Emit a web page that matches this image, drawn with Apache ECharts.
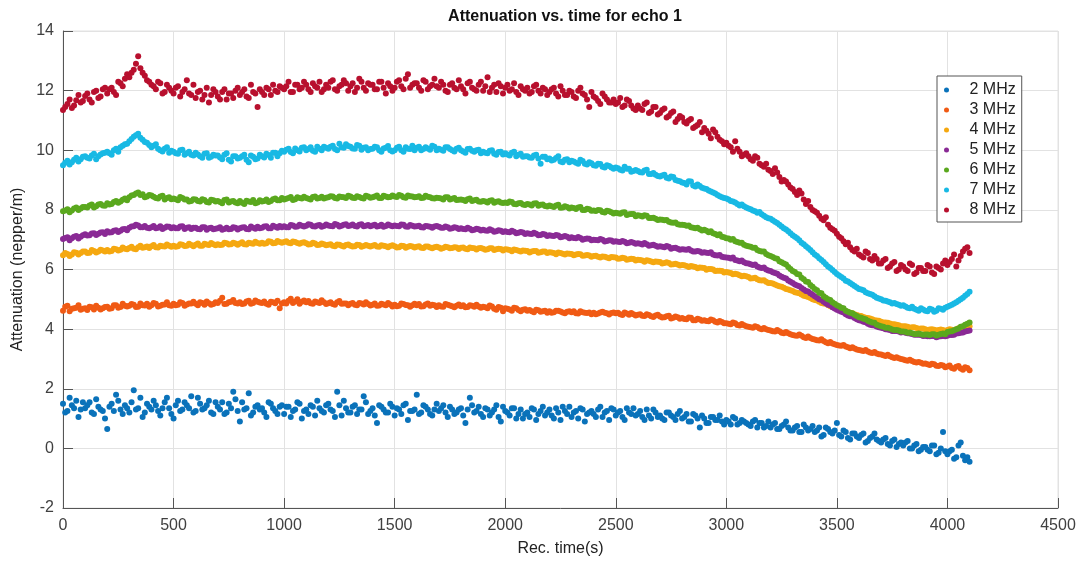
<!DOCTYPE html>
<html>
<head>
<meta charset="utf-8">
<script src="https://cdn.jsdelivr.net/npm/echarts@6/dist/echarts.min.js"></script>
<style>
html,body{margin:0;padding:0;background:#fff;}
#chart{width:1082px;height:562px;}
</style>
</head>
<body>
<div id="chart"></div>
<script>
const chartTitle = 'Attenuation vs. time for echo 1';
const xName = 'Rec. time(s)';
const yName = 'Attenuation (nepper/m)';
const seriesNames = ['2 MHz','3 MHz','4 MHz','5 MHz','6 MHz','7 MHz','8 MHz'];
const seriesColors = ['#0a72ba','#f05a14','#f5a810','#8a2a95','#5aa81e','#18b9e4','#b8102e'];

// sample times (s), set A
const times = [
0,20,40,60,80,100,120,140,160,180,200,220,240,260,280,300,320,340,360,380,
400,420,440,460,480,500,520,540,560,580,600,620,640,660,680,700,720,740,760,780,
800,820,840,860,880,900,920,940,960,980,1000,1020,1040,1060,1080,1100,1120,1140,1160,1180,
1200,1220,1240,1260,1280,1300,1320,1340,1360,1380,1400,1420,1440,1460,1480,1500,1520,1540,1560,1580,
1600,1620,1640,1660,1680,1700,1720,1740,1760,1780,1800,1820,1840,1860,1880,1900,1920,1940,1960,1980,
2000,2020,2040,2060,2080,2100,2120,2140,2160,2180,2200,2220,2240,2260,2280,2300,2320,2340,2360,2380,
2400,2420,2440,2460,2480,2500,2520,2540,2560,2580,2600,2620,2640,2660,2680,2700,2720,2740,2760,2780,
2800,2820,2840,2860,2880,2900,2920,2940,2960,2980,3000,3020,3040,3060,3080,3100,3120,3140,3160,3180,
3200,3220,3240,3260,3280,3300,3320,3340,3360,3380,3400,3420,3440,3460,3480,3500,3520,3540,3560,3580,
3600,3620,3640,3660,3680,3700,3720,3740,3760,3780,3800,3820,3840,3860,3880,3900,3920,3940,3960,3980,
4000,4020,4040,4060,4080,4100];

// sample times (s), set B
const timesB = [
10,30,50,70,90,110,130,150,170,190,210,230,250,270,290,310,330,350,370,390,
410,430,450,470,490,510,530,550,570,590,610,630,650,670,690,710,730,750,770,790,
810,830,850,870,890,910,930,950,970,990,1010,1030,1050,1070,1090,1110,1130,1150,1170,1190,
1210,1230,1250,1270,1290,1310,1330,1350,1370,1390,1410,1430,1450,1470,1490,1510,1530,1550,1570,1590,
1610,1630,1650,1670,1690,1710,1730,1750,1770,1790,1810,1830,1850,1870,1890,1910,1930,1950,1970,1990,
2010,2030,2050,2070,2090,2110,2130,2150,2170,2190,2210,2230,2250,2270,2290,2310,2330,2350,2370,2390,
2410,2430,2450,2470,2490,2510,2530,2550,2570,2590,2610,2630,2650,2670,2690,2710,2730,2750,2770,2790,
2810,2830,2850,2870,2890,2910,2930,2950,2970,2990,3010,3030,3050,3070,3090,3110,3130,3150,3170,3190,
3210,3230,3250,3270,3290,3310,3330,3350,3370,3390,3410,3430,3450,3470,3490,3510,3530,3550,3570,3590,
3610,3630,3650,3670,3690,3710,3730,3750,3770,3790,3810,3830,3850,3870,3890,3910,3930,3950,3970,3990,
4010,4030,4050,4070,4090];

const mhz2 = [
1.5,1.25,1.45,1.6,1.3, 1.35,1.55,1.15,1.4,1.25, 0.65,1.5,1.8,1.3,1.45, 1.2,1.95,1.35,1.05,1.5,
1.3,1.45,1.1,1.55,1.35, 1.0,1.6,1.3,1.45,1.75, 1.25,1.5,1.35,1.6,1.15, 1.4,1.55,1.2,1.35,1.65,
0.9,1.3,1.85,1.2,1.45, 1.35,1.05,1.5,1.25,1.4, 1.15,1.4,1.25,1.55,1.0, 1.3,1.45,1.1,1.35,1.2,
1.5,1.25,1.9,1.1,1.35, 1.2,1.45,1.3,1.75,1.15, 1.35,0.85,1.4,1.2,1.5, 1.1,1.3,1.45,0.95,1.25,
1.8,1.2,1.4,1.15,1.3, 1.25,1.45,1.05,1.3,1.2, 1.35,0.85,1.7,1.2,1.4, 1.05,1.3,1.2,1.45,0.9,
1.25,1.1,1.35,1.15,1.0, 1.2,1.35,0.95,1.25,1.1, 1.3,1.0,1.2,1.4,1.15, 1.05,1.25,1.35,0.9,1.2,
1.15,1.3,1.05,1.25,1.35, 1.1,1.25,0.95,1.2,1.35, 1.15,1.05,1.3,1.0,1.2, 1.1,0.95,1.2,1.05,1.15,
1.0,1.15,0.9,1.1,0.7, 1.0,0.85,1.05,0.95,0.9, 0.95,0.8,1.0,0.85,0.9, 0.8,0.9,0.7,0.85,0.75,
0.7,0.85,0.65,0.8,0.7, 0.6,0.75,0.55,0.7,0.65, 0.55,0.7,0.45,0.65,0.5, 0.85,0.4,0.55,0.3,0.5,
0.35,0.5,0.25,0.4,0.3, 0.2,0.35,0.1,0.3,0.15, 0.1,0.25,0.0,0.15,-0.05, 0.05,-0.1,0.1,-0.15,0.55,
-0.2,-0.05,-0.3,0.2,-0.4, -0.45];
const mhz2b = [
1.2,1.7,1.35,1.05,1.55, 1.45,1.2,1.65,1.3,1.0, 1.4,1.25,1.6,1.15,1.35, 1.55,1.3,1.7,1.2,1.4,
1.6,1.25,1.35,1.7,1.15, 1.45,1.25,1.55,1.35,1.2, 1.7,1.3,1.45,1.2,1.55, 1.3,1.15,1.5,1.9,1.25,
1.55,1.35,1.1,1.4,1.3, 1.2,1.55,1.35,1.15,1.45, 1.4,1.05,1.3,1.5,1.25, 1.15,1.4,1.6,1.25,1.45,
1.3,1.05,1.45,1.6,1.2, 1.4,1.15,1.3,1.55,1.25, 1.1,1.45,1.3,1.2,1.4, 1.35,1.15,1.5,1.25,1.3,
1.15,1.45,1.3,1.1,1.5, 1.35,1.2,1.4,1.15,1.3, 1.1,1.3,1.45,1.25,1.15, 1.35,1.1,1.3,1.05,1.4,
1.2,1.35,1.0,1.3,1.15, 1.05,1.3,1.15,1.4,1.2, 1.1,1.35,0.95,1.25,1.4, 1.2,1.0,1.3,1.15,1.25,
1.05,1.4,1.2,0.95,1.3, 1.2,1.05,1.35,1.15,1.1, 1.25,0.95,1.1,1.3,1.05, 1.0,1.2,1.1,0.95,1.25,
1.05,0.9,1.15,1.0,1.1, 0.85,1.05,0.95,1.1,0.8, 0.9,1.05,0.8,0.95,0.85, 0.75,0.95,0.85,0.7,0.9,
0.8,0.65,0.75,0.9,0.6, 0.7,0.55,0.8,0.6,0.75, 0.6,0.4,0.7,0.55,0.6, 0.45,0.6,0.35,0.5,0.4,
0.45,0.2,0.35,0.5,0.25, 0.3,0.15,0.25,0.05,0.2, 0.2,0.0,0.1,-0.1,0.05, -0.05,0.1,-0.2,0.0,-0.1,
-0.1,-0.35,0.1,-0.25,-0.3];

const mhz3 = [
4.62,4.78,4.68,4.72,4.65, 4.7,4.75,4.66,4.72,4.7, 4.75,4.7,4.8,4.74,4.78, 4.78,4.82,4.75,4.8,4.85,
4.8,4.85,4.78,4.83,4.8, 4.85,4.82,4.88,4.83,4.86, 4.85,4.9,4.82,4.87,4.84, 4.88,5.05,4.85,4.92,4.88,
4.9,4.86,4.95,4.88,4.92, 4.88,4.85,4.92,4.87,4.7, 4.9,4.95,4.88,5.0,4.92, 4.9,4.87,4.93,4.88,4.9,
4.87,4.84,4.9,4.85,4.86, 4.85,4.82,4.88,4.83,4.84, 4.82,4.78,4.85,4.8,4.83, 4.82,4.78,4.84,4.8,4.8,
4.8,4.76,4.83,4.78,4.8, 4.8,4.75,4.82,4.77,4.78, 4.77,4.73,4.8,4.75,4.76, 4.75,4.7,4.76,4.65,4.72,
4.7,4.66,4.72,4.64,4.65, 4.62,4.6,4.65,4.58,4.62, 4.6,4.57,4.62,4.56,4.58, 4.57,4.53,4.6,4.55,4.56,
4.55,4.52,4.58,4.53,4.54, 4.53,4.5,4.56,4.48,4.5, 4.48,4.45,4.5,4.43,4.46, 4.42,4.4,4.45,4.38,4.4,
4.37,4.33,4.38,4.3,4.32, 4.3,4.26,4.3,4.22,4.24, 4.2,4.16,4.2,4.12,4.13, 4.08,4.05,4.07,4.0,4.0,
3.95,3.92,3.93,3.86,3.86, 3.8,3.78,3.78,3.7,3.7, 3.65,3.62,3.6,3.53,3.52, 3.47,3.44,3.42,3.36,3.35,
3.3,3.27,3.25,3.2,3.18, 3.15,3.1,3.09,3.03,3.02, 2.98,2.94,2.93,2.88,2.87, 2.85,2.8,2.82,2.76,2.78,
2.75,2.7,2.74,2.68,2.72, 2.62];
const mhz3b = [
4.75,4.6,4.7,4.8,4.68, 4.64,4.73,4.78,4.66,4.74, 4.68,4.8,4.72,4.85,4.76, 4.84,4.74,4.86,4.79,4.75,
4.88,4.76,4.82,4.9,4.78, 4.8,4.9,4.78,4.86,4.92, 4.8,4.88,4.93,4.82,4.9, 4.95,4.84,4.9,4.98,4.86,
4.84,4.93,4.85,4.96,4.89, 4.93,4.82,4.9,4.95,4.86, 4.86,5.02,4.93,4.85,4.96, 4.94,4.85,4.9,4.97,4.84,
4.9,4.82,4.94,4.86,4.8, 4.88,4.8,4.86,4.9,4.79, 4.86,4.79,4.83,4.88,4.76, 4.77,4.86,4.81,4.75,4.85,
4.84,4.77,4.86,4.82,4.74, 4.76,4.84,4.79,4.73,4.83, 4.8,4.74,4.78,4.82,4.72, 4.73,4.79,4.68,4.74,4.6,
4.68,4.62,4.7,4.6,4.67, 4.64,4.57,4.63,4.6,4.55, 4.55,4.62,4.59,4.53,4.6, 4.6,4.52,4.57,4.54,4.5,
4.5,4.56,4.55,4.49,4.56, 4.55,4.47,4.52,4.54,4.46, 4.5,4.44,4.47,4.41,4.48, 4.39,4.43,4.36,4.42,4.35,
4.34,4.39,4.3,4.35,4.28, 4.27,4.32,4.25,4.27,4.2, 4.18,4.22,4.14,4.17,4.1, 4.06,4.1,4.02,4.04,3.97,
3.93,3.97,3.88,3.9,3.83, 3.79,3.82,3.73,3.75,3.67, 3.63,3.66,3.56,3.57,3.49, 3.45,3.47,3.39,3.39,3.32,
3.28,3.3,3.22,3.23,3.16, 3.12,3.14,3.06,3.06,3.0, 2.96,2.97,2.9,2.9,2.84, 2.82,2.84,2.77,2.8,2.72,
2.78,2.67,2.76,2.64,2.7];

const mhz4 = [
6.48,6.52,6.5,6.56,6.55, 6.6,6.56,6.62,6.6,6.64, 6.65,6.62,6.68,6.66,6.7, 6.72,6.7,6.75,6.73,6.77,
6.78,6.75,6.8,6.77,6.8, 6.8,6.78,6.83,6.8,6.82, 6.83,6.8,6.86,6.82,6.85, 6.85,6.83,6.88,6.85,6.87,
6.87,6.85,6.9,6.86,6.89, 6.9,6.88,6.93,6.89,6.92, 6.92,6.9,6.94,6.89,6.9, 6.88,6.85,6.87,6.83,6.85,
6.83,6.8,6.84,6.8,6.82, 6.8,6.78,6.82,6.79,6.8, 6.8,6.77,6.81,6.78,6.79, 6.78,6.75,6.79,6.76,6.77,
6.76,6.73,6.77,6.74,6.75, 6.74,6.72,6.75,6.72,6.74, 6.73,6.7,6.74,6.71,6.71, 6.7,6.68,6.71,6.68,6.69,
6.68,6.65,6.67,6.63,6.64, 6.62,6.6,6.62,6.58,6.6, 6.58,6.55,6.57,6.53,6.54, 6.52,6.5,6.51,6.47,6.47,
6.45,6.43,6.44,6.4,6.42, 6.4,6.37,6.38,6.34,6.35, 6.33,6.3,6.31,6.27,6.27, 6.25,6.22,6.22,6.18,6.17,
6.15,6.12,6.12,6.08,6.07, 6.05,6.02,6.0,5.96,5.95, 5.92,5.88,5.86,5.81,5.79, 5.75,5.71,5.67,5.63,5.59,
5.55,5.5,5.44,5.39,5.33, 5.28,5.22,5.16,5.1,5.04, 4.98,4.92,4.86,4.81,4.75, 4.7,4.65,4.6,4.55,4.5,
4.45,4.41,4.37,4.33,4.29, 4.25,4.22,4.19,4.16,4.13, 4.1,4.08,4.06,4.04,4.02, 4.0,3.99,3.98,3.97,3.97,
3.97,3.98,4.0,4.03,4.06, 4.1];
const mhz4b = [
6.55,6.45,6.58,6.5,6.6, 6.55,6.65,6.57,6.66,6.6, 6.6,6.7,6.64,6.74,6.68, 6.76,6.68,6.8,6.75,6.72,
6.82,6.74,6.78,6.84,6.76, 6.76,6.85,6.79,6.86,6.78, 6.87,6.8,6.84,6.89,6.81, 6.82,6.9,6.84,6.9,6.83,
6.91,6.84,6.88,6.93,6.86, 6.86,6.95,6.88,6.96,6.9, 6.95,6.88,6.92,6.86,6.91, 6.84,6.9,6.82,6.87,6.81,
6.85,6.78,6.83,6.77,6.84, 6.77,6.83,6.76,6.82,6.77, 6.82,6.76,6.8,6.75,6.81, 6.74,6.8,6.73,6.79,6.74,
6.78,6.72,6.77,6.71,6.76, 6.7,6.76,6.71,6.75,6.69, 6.74,6.68,6.72,6.67,6.72, 6.66,6.71,6.65,6.7,6.64,
6.67,6.61,6.65,6.6,6.63, 6.57,6.62,6.56,6.6,6.55, 6.57,6.51,6.55,6.5,6.53, 6.48,6.52,6.46,6.49,6.43,
6.46,6.4,6.43,6.38,6.41, 6.36,6.39,6.33,6.36,6.3, 6.32,6.26,6.29,6.24,6.26, 6.2,6.24,6.17,6.19,6.13,
6.14,6.08,6.1,6.04,6.06, 5.99,6.02,5.95,5.96,5.9, 5.9,5.84,5.84,5.77,5.77, 5.7,5.72,5.64,5.64,5.55,
5.53,5.46,5.42,5.35,5.3, 5.24,5.2,5.12,5.08,5.0, 4.96,4.88,4.85,4.77,4.74, 4.66,4.63,4.56,4.53,4.47,
4.44,4.38,4.36,4.3,4.28, 4.22,4.21,4.16,4.15,4.1, 4.1,4.05,4.06,4.01,4.02, 3.97,4.0,3.95,3.99,3.94,
4.0,3.96,4.03,4.05,4.09];

const mhz5 = [
7.02,7.08,7.05,7.12,7.1, 7.18,7.15,7.22,7.2,7.25, 7.28,7.25,7.32,7.3,7.36, 7.4,7.45,7.48,7.42,7.4,
7.42,7.38,7.45,7.4,7.43, 7.42,7.38,7.45,7.4,7.36, 7.4,7.35,7.42,7.38,7.35, 7.38,7.33,7.4,7.36,7.4,
7.38,7.42,7.35,7.4,7.43, 7.4,7.45,7.38,7.43,7.46, 7.45,7.42,7.48,7.44,7.47, 7.47,7.5,7.44,7.49,7.46,
7.48,7.45,7.5,7.47,7.52, 7.48,7.46,7.5,7.45,7.49, 7.48,7.44,7.5,7.46,7.48, 7.48,7.45,7.5,7.43,7.47,
7.45,7.42,7.46,7.43,7.44, 7.43,7.4,7.42,7.38,7.4, 7.38,7.35,7.37,7.33,7.35, 7.33,7.3,7.32,7.28,7.3,
7.28,7.25,7.27,7.23,7.24, 7.22,7.19,7.2,7.16,7.17, 7.15,7.12,7.14,7.1,7.1, 7.08,7.05,7.06,7.02,7.03,
7.0,6.98,7.0,6.96,6.97, 6.95,6.92,6.93,6.9,6.9, 6.88,6.84,6.85,6.81,6.8, 6.78,6.75,6.76,6.72,6.7,
6.68,6.66,6.64,6.6,6.6, 6.58,6.55,6.5,6.47,6.43, 6.4,6.37,6.32,6.28,6.24, 6.2,6.15,6.1,6.05,6.0,
5.95,5.88,5.8,5.72,5.63, 5.55,5.46,5.38,5.28,5.2, 5.1,5.0,4.92,4.82,4.73, 4.65,4.58,4.5,4.43,4.37,
4.3,4.25,4.18,4.13,4.09, 4.05,4.0,3.97,3.94,3.92, 3.9,3.86,3.84,3.81,3.8, 3.78,3.76,3.77,3.75,3.77,
3.78,3.8,3.85,3.88,3.92, 3.95];
const mhz5b = [
7.06,6.98,7.1,7.04,7.15, 7.14,7.21,7.16,7.24,7.19, 7.24,7.3,7.26,7.35,7.32, 7.44,7.5,7.42,7.46,7.38,
7.46,7.4,7.36,7.44,7.38, 7.38,7.44,7.36,7.42,7.4, 7.36,7.42,7.33,7.4,7.37, 7.42,7.36,7.35,7.42,7.34,
7.41,7.36,7.44,7.37,7.38, 7.44,7.38,7.47,7.4,7.42, 7.42,7.49,7.43,7.5,7.44, 7.52,7.45,7.48,7.43,7.51,
7.46,7.53,7.44,7.5,7.46, 7.51,7.44,7.52,7.47,7.45, 7.5,7.46,7.43,7.51,7.45, 7.46,7.51,7.44,7.49,7.44,
7.47,7.41,7.45,7.4,7.46, 7.4,7.44,7.37,7.42,7.36, 7.36,7.4,7.32,7.37,7.31, 7.31,7.35,7.27,7.32,7.26,
7.26,7.3,7.22,7.26,7.19, 7.2,7.23,7.15,7.19,7.12, 7.13,7.16,7.08,7.12,7.05, 7.06,7.09,7.0,7.04,6.98,
6.99,7.02,6.94,6.98,6.93, 6.93,6.96,6.88,6.92,6.86, 6.86,6.89,6.8,6.83,6.76, 6.76,6.79,6.7,6.73,6.66,
6.67,6.69,6.6,6.62,6.56, 6.56,6.58,6.48,6.49,6.41, 6.39,6.4,6.3,6.3,6.21, 6.18,6.17,6.07,6.07,5.97,
5.91,5.86,5.76,5.7,5.59, 5.5,5.44,5.33,5.26,5.15, 5.05,4.98,4.87,4.8,4.69, 4.62,4.56,4.46,4.42,4.33,
4.28,4.23,4.15,4.12,4.06, 4.03,3.99,3.94,3.94,3.89, 3.88,3.85,3.81,3.81,3.77, 3.76,3.77,3.73,3.76,3.76,
3.8,3.81,3.86,3.89,3.94];

const mhz6 = [
7.95,8.02,7.98,8.08,8.05, 8.1,8.15,8.08,8.18,8.15, 8.22,8.2,8.3,8.28,8.38, 8.42,8.5,8.58,8.52,8.45,
8.48,8.4,8.45,8.35,8.42, 8.38,8.32,8.4,8.35,8.3, 8.35,8.28,8.33,8.25,8.32, 8.3,8.22,8.35,8.28,8.25,
8.3,8.2,8.28,8.33,8.25, 8.28,8.35,8.3,8.38,8.32, 8.35,8.4,8.33,8.42,8.38, 8.4,8.35,8.45,8.4,8.38,
8.42,8.45,8.38,8.43,8.4, 8.45,8.4,8.43,8.38,8.45, 8.42,8.48,8.4,8.45,8.43, 8.45,8.5,8.42,8.48,8.45,
8.43,8.4,8.47,8.42,8.38, 8.4,8.35,8.42,8.37,8.33, 8.35,8.3,8.38,8.32,8.28, 8.3,8.25,8.32,8.27,8.25,
8.25,8.28,8.2,8.22,8.18, 8.2,8.15,8.22,8.17,8.13, 8.15,8.1,8.17,8.08,8.1, 8.08,8.03,8.1,8.0,8.02,
7.98,8.0,7.93,7.97,7.92, 7.9,7.87,7.92,7.85,7.86, 7.82,7.78,7.8,7.73,7.7, 7.68,7.65,7.6,7.57,7.52,
7.5,7.47,7.42,7.38,7.35, 7.33,7.25,7.22,7.15,7.1, 7.05,7.0,6.95,6.9,6.83, 6.78,6.73,6.65,6.6,6.52,
6.45,6.38,6.28,6.2,6.08, 5.95,5.85,5.72,5.6,5.48, 5.35,5.22,5.1,5.0,4.9, 4.8,4.72,4.62,4.55,4.48,
4.4,4.35,4.28,4.22,4.15, 4.1,4.05,4.02,3.97,3.95, 3.92,3.88,3.86,3.84,3.83, 3.82,3.8,3.83,3.81,3.85,
3.9,3.93,4.0,4.08,4.15, 4.22];
const mhz6b = [
7.98,7.92,8.05,8.0,8.1, 8.08,8.18,8.12,8.2,8.14, 8.18,8.26,8.24,8.34,8.32, 8.48,8.55,8.5,8.42,8.5,
8.44,8.38,8.47,8.4,8.36, 8.36,8.43,8.35,8.28,8.36, 8.3,8.36,8.26,8.34,8.28, 8.26,8.33,8.25,8.3,8.22,
8.24,8.31,8.26,8.22,8.32, 8.3,8.26,8.36,8.32,8.4, 8.37,8.43,8.36,8.4,8.44, 8.37,8.43,8.38,8.44,8.41,
8.46,8.4,8.45,8.42,8.47, 8.41,8.46,8.4,8.47,8.41, 8.45,8.4,8.47,8.42,8.48, 8.43,8.47,8.41,8.46,8.42,
8.46,8.41,8.44,8.39,8.41, 8.38,8.42,8.35,8.4,8.34, 8.33,8.36,8.3,8.34,8.27, 8.28,8.31,8.24,8.29,8.23,
8.23,8.26,8.19,8.23,8.16, 8.18,8.21,8.14,8.18,8.11, 8.12,8.15,8.07,8.12,8.05, 8.06,8.08,8.0,8.04,7.97,
7.96,7.99,7.91,7.95,7.88, 7.89,7.91,7.83,7.86,7.79, 7.8,7.82,7.73,7.74,7.66, 7.67,7.66,7.58,7.58,7.5,
7.49,7.48,7.4,7.4,7.31, 7.3,7.28,7.19,7.18,7.08, 7.04,7.02,6.92,6.9,6.8, 6.76,6.73,6.62,6.6,6.48,
6.42,6.36,6.24,6.17,6.02, 5.92,5.83,5.67,5.58,5.42, 5.3,5.2,5.05,4.98,4.85, 4.77,4.7,4.58,4.53,4.44,
4.38,4.33,4.25,4.21,4.12, 4.08,4.05,3.99,3.97,3.92, 3.91,3.89,3.84,3.85,3.81, 3.82,3.83,3.79,3.84,3.83,
3.92,3.96,4.02,4.1,4.18];

const mhz7 = [
9.5,9.65,9.6,9.75,9.7, 9.8,9.72,9.88,9.8,9.9, 9.95,9.85,10.05,10.1,10.2, 10.3,10.45,10.55,10.35,10.25,
10.1,10.2,10.0,10.05,9.92, 9.95,9.88,10.02,9.9,9.85, 9.92,9.8,9.88,9.75,9.85, 9.82,9.7,9.9,9.62,9.8,
9.75,9.85,9.6,9.78,9.72, 9.8,9.88,9.75,9.92,9.9, 9.95,10.05,9.9,10.0,10.08, 10.0,10.1,9.95,10.05,10.12,
10.05,10.15,10.0,10.1,10.2, 10.12,10.05,10.15,10.08,10.0, 10.05,10.1,9.95,10.08,10.0, 10.0,10.12,9.95,10.05,10.15,
10.08,10.0,10.1,10.02,10.12, 10.05,9.98,10.1,10.0,10.05, 10.0,9.92,10.05,9.95,10.02, 9.95,9.9,10.0,9.85,9.95,
9.9,9.82,9.95,9.85,9.78, 9.8,9.75,9.85,9.55,9.78, 9.72,9.68,9.8,9.6,9.7, 9.65,9.58,9.68,9.55,9.6,
9.5,9.55,9.45,9.5,9.42, 9.42,9.35,9.45,9.38,9.3, 9.3,9.25,9.35,9.2,9.18, 9.12,9.18,9.05,9.1,8.98,
8.92,8.85,8.95,8.78,8.8, 8.72,8.65,8.58,8.5,8.42, 8.38,8.3,8.25,8.15,8.12, 8.05,7.98,7.9,7.85,7.75,
7.7,7.6,7.5,7.38,7.28, 7.15,7.05,6.9,6.78,6.65, 6.5,6.38,6.25,6.1,5.98, 5.85,5.75,5.62,5.55,5.45,
5.35,5.3,5.2,5.15,5.05, 5.0,4.95,4.9,4.88,4.82, 4.8,4.72,4.75,4.65,4.7, 4.62,4.68,4.58,4.7,4.65,
4.75,4.82,4.9,5.0,5.12, 5.25];
const mhz7b = [
9.58,9.52,9.68,9.62,9.78, 9.75,9.82,9.7,9.86,9.92, 9.9,10.0,9.95,10.15,10.22, 10.38,10.5,10.42,10.28,10.18,
10.15,10.05,9.96,10.1,9.98, 9.9,10.0,9.85,9.95,9.82, 9.86,9.75,9.9,9.78,9.82, 9.76,9.85,9.68,9.8,9.72,
9.8,9.68,9.82,9.7,9.85, 9.76,9.84,9.92,9.8,9.98, 10.02,9.94,10.06,9.96,10.1, 10.04,9.98,10.12,10.0,10.08,
10.12,10.04,10.22,10.08,10.14, 10.06,10.18,10.02,10.1,10.04, 10.12,10.0,10.06,10.14,9.96, 10.08,10.0,10.1,10.04,10.0,
10.12,10.04,10.06,10.15,10.0, 10.02,10.1,10.04,9.96,10.08, 9.96,10.04,9.98,10.0,9.9, 9.92,9.98,9.88,9.94,9.86,
9.86,9.92,9.8,9.88,9.8, 9.76,9.82,9.72,9.78,9.7, 9.66,9.74,9.62,9.68,9.6, 9.62,9.55,9.64,9.52,9.56,
9.48,9.54,9.42,9.47,9.38, 9.4,9.32,9.38,9.28,9.34, 9.26,9.32,9.2,9.24,9.14, 9.15,9.08,9.12,9.0,8.96,
8.9,8.96,8.82,8.85,8.74, 8.7,8.62,8.55,8.46,8.4, 8.35,8.28,8.2,8.18,8.08, 8.02,7.95,7.93,7.8,7.72,
7.65,7.56,7.44,7.34,7.22, 7.1,6.98,6.85,6.72,6.58, 6.45,6.32,6.18,6.05,5.92, 5.8,5.7,5.6,5.5,5.4,
5.33,5.24,5.18,5.1,5.03, 4.96,4.93,4.86,4.84,4.78, 4.76,4.7,4.68,4.62,4.66, 4.6,4.66,4.62,4.68,4.72,
4.78,4.86,4.95,5.05,5.18];

const mhz8 = [
11.35,11.55,11.42,11.68,11.6, 11.82,11.7,11.95,11.75,12.05, 11.9,12.1,11.85,12.25,12.4, 12.45,12.7,13.15,12.6,12.35,
12.2,12.05,12.25,11.95,12.1, 11.9,12.15,11.95,12.35,11.85, 11.75,12.0,11.85,11.6,12.05, 11.8,11.95,11.7,11.9,12.0,
11.85,12.05,11.75,11.95,11.45, 11.95,12.1,11.85,12.0,12.15, 12.05,12.3,11.95,12.2,12.1, 12.2,11.95,12.15,12.3,12.05,
12.1,12.35,12.0,12.2,12.25, 12.15,11.95,12.4,12.1,12.25, 12.2,12.05,12.3,11.9,12.15, 12.1,12.35,12.05,12.55,12.2,
12.25,12.0,12.3,12.15,12.4, 12.1,12.2,11.95,12.25,12.05, 12.15,11.9,12.3,12.05,12.2, 12.0,12.45,12.1,11.95,12.15,
12.1,12.0,12.25,11.85,12.05, 12.1,11.95,12.2,11.9,12.05, 11.95,12.1,11.8,12.0,11.85, 11.95,11.75,12.1,11.85,11.45,
11.8,11.65,11.9,11.7,11.6, 11.55,11.75,11.5,11.65,11.4, 11.5,11.35,11.6,11.3,11.45, 11.25,11.4,11.15,11.3,11.05,
11.1,10.9,11.05,10.8,10.95, 10.75,10.55,10.7,10.45,10.3, 10.25,10.1,10.3,9.95,9.85, 9.8,9.65,9.75,9.5,9.55,
9.3,9.4,9.1,9.0,8.85, 8.7,8.5,8.55,8.2,8.1, 7.95,7.8,7.65,7.5,7.35, 7.2,7.05,6.85,6.75,6.6,
6.5,6.4,6.55,6.3,6.35, 6.2,6.35,6.1,6.25,6.0, 6.1,5.95,6.15,5.9,6.05, 5.95,6.1,5.85,6.05,6.2,
6.15,6.35,6.1,6.45,6.7, 6.55];
const mhz8b = [
11.45,11.7,11.5,11.85,11.65, 11.9,11.6,12.0,11.8,12.1, 12.05,11.95,12.3,12.15,12.55, 12.6,12.9,12.75,12.5,12.3,
12.15,12.3,11.9,12.2,12.0, 12.1,11.8,12.05,11.9,12.2, 11.95,11.7,12.1,11.85,11.95, 11.7,12.05,11.9,11.75,12.1,
11.95,11.8,12.2,11.9,12.05, 11.85,12.05,12.2,11.95,12.1, 12.15,11.95,12.2,12.05,12.3, 12.05,12.25,12.1,11.95,12.2,
12.3,12.05,12.15,12.35,12.0, 12.25,12.1,12.3,12.0,12.2, 12.05,12.3,12.1,12.25,12.0, 12.3,12.15,12.4,12.1,12.25,
12.1,12.35,12.05,12.2,12.15, 12.3,12.0,12.2,12.1,12.35, 12.05,12.25,12.1,12.0,12.3, 12.15,11.95,12.2,12.25,11.9,
12.2,12.05,11.95,12.15,12.0, 11.9,12.15,12.0,12.1,11.85, 12.05,11.9,12.15,11.85,12.0, 11.8,12.0,11.9,11.7,11.95,
11.75,11.55,11.8,11.6,11.7, 11.6,11.45,11.7,11.5,11.35, 11.4,11.55,11.25,11.45,11.2, 11.35,11.1,11.25,10.95,11.15,
10.95,11.0,10.75,10.85,10.6, 10.65,10.4,10.6,10.35,10.2, 10.15,9.95,10.05,9.8,9.9, 9.7,9.8,9.55,9.45,9.35,
9.2,9.25,8.95,8.95,8.75, 8.6,8.65,8.35,8.3,8.0, 7.9,7.7,7.75,7.4,7.3, 7.1,6.95,6.9,6.65,6.7,
6.45,6.6,6.35,6.45,6.2, 6.3,6.05,6.2,5.95,6.15, 6.0,6.2,5.85,6.05,5.95, 6.15,5.9,6.1,6.0,6.3,
6.25,6.5,6.3,6.6,6.75];

const valuesA = [mhz2, mhz3, mhz4, mhz5, mhz6, mhz7, mhz8];
const valuesB = [mhz2b, mhz3b, mhz4b, mhz5b, mhz6b, mhz7b, mhz8b];
const xTicks = {min: 0, max: 4500, interval: 500};
const yTicks = {min: -2, max: 14, interval: 2};

const FONT = "'Liberation Sans', Arial, Helvetica, sans-serif";
const chart = echarts.init(document.getElementById('chart'), null, {renderer: 'canvas'});

const series = seriesNames.map((name, k) => {
  const pts = [];
  times.forEach((t, i) => pts.push([t, valuesA[k][i]]));
  timesB.forEach((t, i) => pts.push([t, valuesB[k][i]]));
  pts.sort((a, b) => a[0] - b[0]);
  return {
    name: name,
    type: 'scatter',
    symbol: 'circle',
    symbolSize: 6,
    itemStyle: {color: seriesColors[k], opacity: 1},
    emphasis: {disabled: true},
    data: pts
  };
});

chart.setOption({
  animation: false,
  backgroundColor: '#ffffff',
  textStyle: {fontFamily: FONT},
  title: {
    text: chartTitle,
    left: 560,
    top: 4,
    textAlign: 'center',
    textStyle: {fontFamily: FONT, fontSize: 16, fontWeight: 'bold', color: '#111'}
  },
  grid: {left: 63, right: 24, top: 31, bottom: 54, show: true, borderColor: '#e2e2e2', borderWidth: 1},
  legend: {
    orient: 'vertical',
    left: 937,
    top: 76,
    icon: 'circle',
    itemWidth: 36,
    itemHeight: 5,
    itemGap: 0,
    padding: [4, 6, 2, 7],
    backgroundColor: '#ffffff',
    borderColor: '#555',
    borderWidth: 1,
    borderRadius: 0,
    textStyle: {fontFamily: FONT, fontSize: 16, color: '#222', lineHeight: 20},
    data: seriesNames
  },
  xAxis: {
    type: 'value',
    min: xTicks.min, max: xTicks.max, interval: xTicks.interval,
    name: xName, nameLocation: 'middle', nameGap: 33,
    nameTextStyle: {fontFamily: FONT, fontSize: 16, color: '#222'},
    axisLine: {show: true, onZero: false, lineStyle: {color: '#555', width: 1}},
    axisTick: {show: true, inside: true, length: 10, lineStyle: {color: '#555'}},
    axisLabel: {fontFamily: FONT, fontSize: 16, color: '#404040', margin: 10, formatter: v => String(v)},
    splitLine: {show: true, lineStyle: {color: '#e2e2e2', width: 1}}
  },
  yAxis: {
    type: 'value',
    min: yTicks.min, max: yTicks.max, interval: yTicks.interval,
    name: yName, nameLocation: 'middle', nameGap: 31, nameRotate: 90,
    nameTextStyle: {fontFamily: FONT, fontSize: 16, color: '#222'},
    axisLine: {show: true, onZero: false, lineStyle: {color: '#555', width: 1}},
    axisTick: {show: true, inside: true, length: 10, lineStyle: {color: '#555'}},
    axisLabel: {fontFamily: FONT, fontSize: 16, color: '#404040', margin: 9, formatter: v => String(v)},
    splitLine: {show: true, lineStyle: {color: '#e2e2e2', width: 1}}
  },
  series: series
});
</script>
</body>
</html>
